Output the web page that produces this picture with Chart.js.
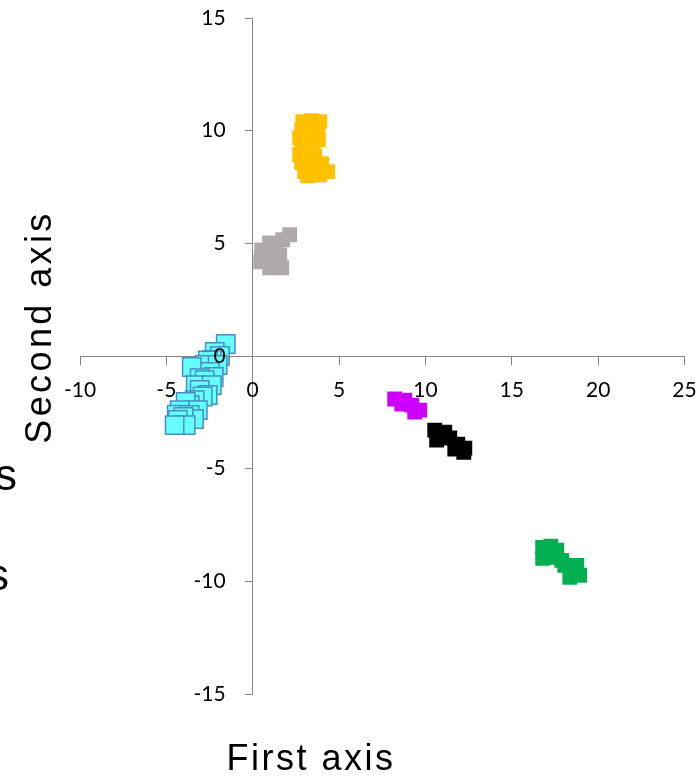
<!DOCTYPE html>
<html>
<head>
<meta charset="utf-8">
<script src="https://cdn.jsdelivr.net/npm/chart.js@4/dist/chart.umd.min.js"></script>
<style>
  html, body { margin: 0; padding: 0; background: #ffffff; }
  #chart { display: block; }
</style>
</head>
<body>
<canvas id="chart" width="699" height="781"></canvas>
<script>
// Axis ranges and tick labels
const xTicks = [-10, -5, 0, 5, 10, 15, 20, 25];
const yTicks = [-15, -10, -5, 0, 5, 10, 15];
const xTitle = 'First axis';
const yTitle = 'Second axis';

// Score clusters, [first axis, second axis]
const cyanScores = [
  [-1.56, 0.53], [-2.20, 0.18], [-1.90, 0.00], [-2.37, -0.18], [-2.60, -0.20],
  [-2.78, -0.40], [-2.03, -0.40], [-2.49, -0.71], [-3.53, -0.49], [-2.26, -0.93],
  [-3.07, -0.98], [-2.78, -1.07], [-3.30, -1.30], [-2.37, -1.29], [-3.07, -1.51],
  [-2.61, -1.73], [-2.90, -1.80], [-3.36, -1.96], [-3.65, -2.18], [-3.88, -2.04],
  [-3.18, -2.40], [-4.23, -2.40], [-4.40, -2.60], [-3.65, -2.62], [-3.40, -2.80],
  [-4.00, -2.70], [-4.34, -2.84], [-3.88, -3.07], [-4.52, -3.07]
];
const yellowScores = [
  [2.90, 10.40], [3.42, 10.44], [3.88, 10.40], [2.84, 10.04], [3.76, 10.04],
  [2.72, 9.69], [3.36, 9.73], [3.80, 9.60], [2.84, 9.33], [3.42, 9.24],
  [2.72, 8.93], [3.59, 8.89], [2.84, 8.58], [3.30, 8.49], [4.00, 8.53],
  [3.01, 8.18], [3.76, 8.18], [4.34, 8.18], [3.18, 8.00], [3.88, 8.04]
];
const greyScores = [
  [2.14, 5.38], [1.74, 5.16], [0.98, 5.02], [0.52, 4.71], [1.27, 4.71],
  [1.56, 4.49], [0.52, 4.36], [1.10, 4.27], [0.46, 4.18], [0.98, 3.91], [1.68, 3.91]
];
const magentaScores = [
  [8.22, -1.91], [8.80, -1.96], [8.63, -2.13], [9.21, -2.18], [9.67, -2.40], [9.38, -2.49]
];
const blackScores = [
  [10.54, -3.29], [11.12, -3.38], [10.65, -3.73], [11.41, -3.64],
  [11.87, -3.91], [12.28, -4.09], [11.70, -4.13], [12.22, -4.27]
];
const greenScores = [
  [16.79, -8.49], [17.26, -8.44], [17.60, -8.62], [16.79, -8.98], [17.43, -8.93],
  [17.89, -9.07], [18.07, -9.29], [18.76, -9.29], [18.47, -9.51], [18.93, -9.73], [18.36, -9.82]
];

const toPoints = arr => arr.map(([x, y]) => ({ x, y }));

function squareSet(points, fill, border, radius, borderWidth) {
  return {
    data: toPoints(points),
    pointStyle: 'rect',
    pointRadius: radius,
    pointHoverRadius: radius,
    backgroundColor: fill,
    borderColor: border,
    borderWidth: borderWidth
  };
}

const axisGrey = '#868686';
const tickFont = { family: 'Lato', size: 21 };

// Keep the axes from reserving space in the layout: they sit inside the plot
function noSpace(scale) {
  scale.width = scale.isHorizontal() ? scale.width : 0;
  scale.height = scale.isHorizontal() ? 0 : scale.height;
  scale.paddingLeft = 0;
  scale.paddingRight = 0;
  scale.paddingTop = 0;
  scale.paddingBottom = 0;
}

// Put the vertical axis on x = 0 so both axes cross at the origin;
// its box spans from the canvas edge so the tick labels are not clipped
const crossAxes = {
  id: 'crossAxes',
  afterLayout(chart) {
    const px = chart.scales.x.getPixelForValue(0);
    chart.scales.y.left = 0;
    chart.scales.y.right = px;
    chart.scales.y.width = px;
  }
};

// Axis titles and the clipped side labels
const titlesPlugin = {
  id: 'axisTitles',
  afterDraw(chart) {
    const ctx = chart.ctx;
    ctx.save();
    ctx.fillStyle = '#000000';
    ctx.font = '36px "Liberation Sans", Arial, sans-serif';
    ctx.textBaseline = 'alphabetic';
    ctx.textAlign = 'center';
    ctx.letterSpacing = '2.5px';
    ctx.fillText(xTitle, 311, 770);
    ctx.save();
    ctx.letterSpacing = '3.4px';
    ctx.translate(51, 327);
    ctx.rotate(-Math.PI / 2);
    ctx.fillText(yTitle, 0, 0);
    ctx.restore();
    ctx.letterSpacing = '0px';
    ctx.font = '44px "Liberation Sans", Arial, sans-serif';
    ctx.textAlign = 'left';
    ctx.fillText('s', -5, 490);
    ctx.fillText('s', -13, 590);
    ctx.restore();
  }
};

new Chart(document.getElementById('chart'), {
  type: 'scatter',
  data: {
    datasets: [
      squareSet(cyanScores, '#66FFFF', '#4A8CC4', 13, 1.5),
      squareSet(yellowScores, '#FFC000', '#FFC000', 10.5, 0),
      squareSet(greyScores, '#AEAAAA', '#AEAAAA', 10.5, 0),
      squareSet(magentaScores, '#CC00FF', '#CC00FF', 10.5, 0),
      squareSet(blackScores, '#000000', '#000000', 10.5, 0),
      squareSet(greenScores, '#00B050', '#00B050', 10.5, 0)
    ]
  },
  options: {
    responsive: false,
    animation: false,
    events: [],
    layout: { padding: { left: 80, right: 14, top: 18, bottom: 87 } },
    plugins: {
      legend: { display: false },
      tooltip: { enabled: false },
      title: { display: false }
    },
    scales: {
      x: {
        type: 'linear',
        min: xTicks[0],
        max: xTicks[xTicks.length - 1],
        position: { y: 0 },
        afterFit: noSpace,
        afterBuildTicks(scale) { scale.ticks = xTicks.map(v => ({ value: v })); },
        ticks: { z: 1, color: '#000000', font: tickFont, padding: 14, maxRotation: 0, autoSkip: false },
        grid: { drawOnChartArea: false, drawTicks: true, tickLength: 8, color: axisGrey, lineWidth: 1 },
        border: { display: true, color: axisGrey, width: 1 }
      },
      y: {
        type: 'linear',
        min: yTicks[0],
        max: yTicks[yTicks.length - 1],
        position: 'left',
        afterFit: noSpace,
        afterBuildTicks(scale) { scale.ticks = yTicks.map(v => ({ value: v })); },
        ticks: { z: 1, color: '#000000', font: tickFont, padding: 19, autoSkip: false },
        grid: { drawOnChartArea: false, drawTicks: true, tickLength: 8, color: axisGrey, lineWidth: 1 },
        border: { display: true, color: axisGrey, width: 1 }
      }
    }
  },
  plugins: [crossAxes, titlesPlugin]
});
</script>
</body>
</html>
